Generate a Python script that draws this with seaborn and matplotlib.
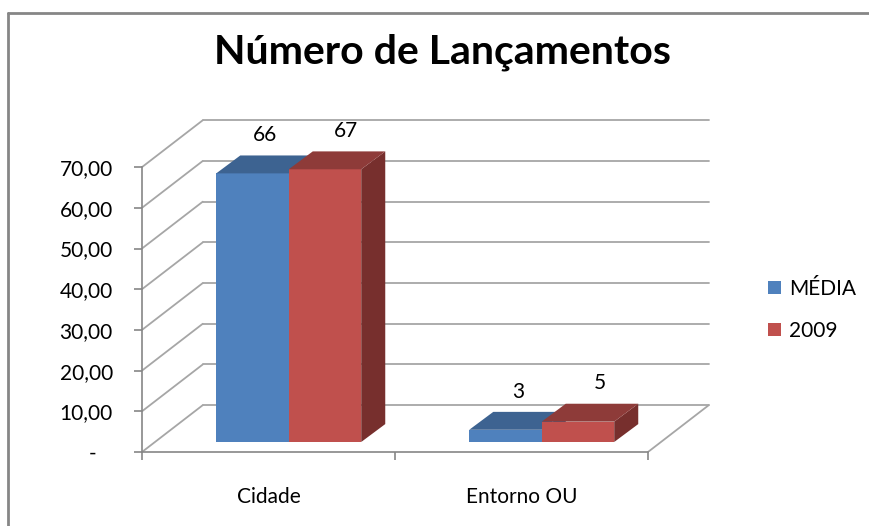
import pandas as pd
import matplotlib
matplotlib.use("Agg")
import matplotlib.pyplot as plt
from matplotlib.patches import Polygon, Patch
from matplotlib.lines import Line2D
import seaborn as sns

# chart data
categories = ["Cidade", "Entorno OU"]
series = ["MÉDIA", "2009"]
media_values = [66, 3]
values_2009 = [67, 5]
y_ticks = [0, 10, 20, 30, 40, 50, 60, 70]
y_tick_labels = ["-   ", "10,00", "20,00", "30,00", "40,00", "50,00", "60,00", "70,00"]

data = pd.DataFrame({
    "categoria": categories * 2,
    "serie": [series[0]] * 2 + [series[1]] * 2,
    "valor": media_values + values_2009,
})
series_values = [media_values, values_2009]

front_colors = ["#4F81BD", "#C0504D"]
top_colors = ["#3D6391", "#8E3B39"]
side_colors = ["#3A5F8C", "#772F2D"]

sns.set_style("white")
plt.rcParams["font.family"] = ["Lato", "DejaVu Sans"]
plt.rcParams["text.color"] = "black"
plt.rcParams["xtick.labelcolor"] = "black"
plt.rcParams["ytick.labelcolor"] = "black"

W, H = 870, 526
fig = plt.figure(figsize=(W / 100, H / 100), dpi=100)
# axes placed so that the front plane matches the reference
ax = fig.add_axes([142 / W, (H - 452) / H, (713 - 142) / W, 85 * 4.07 / H])

# offsets of the 3d look, in data units
wall_dx, wall_dy = 0.24, 11.5   # back wall
bar_dx, bar_dy = 0.08, 2.46     # bars sit in the middle of the depth
dep_dx, dep_dy = 0.095, 4.4     # depth of each bar
label_dx = [0.05, 0.085]        # label shift per series (perspective)

ax = sns.barplot(data=data, x="categoria", y="valor", hue="serie",
                 palette=front_colors, width=0.573, legend=False,
                 saturation=1, ax=ax, zorder=5)

# back wall and left wall grid
grid_col = "#a6a6a6"
for v in y_ticks:
    ax.plot([-0.5 + wall_dx, 1.5 + wall_dx], [v + wall_dy, v + wall_dy],
            color=grid_col, lw=1.3, zorder=1)
    ax.plot([-0.5, -0.5 + wall_dx], [v, v + wall_dy],
            color=grid_col, lw=1.3, zorder=1)
# floor right edge
ax.plot([1.5, 1.5 + wall_dx], [0, wall_dy], color=grid_col, lw=1.3, zorder=1)

for i, cont in enumerate(ax.containers):
    for j, p in enumerate(cont.patches):
        x0 = p.get_x() + bar_dx
        x1 = x0 + p.get_width()
        h = p.get_height()
        p.set_x(x0)
        p.set_y(bar_dy)
        p.set_linewidth(0)
        z = 5 + i * 2
        p.set_zorder(z)
        y0, y1 = bar_dy, bar_dy + h
        top = Polygon([(x0, y1), (x1, y1), (x1 + dep_dx, y1 + dep_dy),
                       (x0 + dep_dx, y1 + dep_dy)], closed=True,
                      facecolor=top_colors[i], lw=0, zorder=z)
        side = Polygon([(x1, y0), (x1, y1), (x1 + dep_dx, y1 + dep_dy),
                        (x1 + dep_dx, y0 + dep_dy)], closed=True,
                       facecolor=side_colors[i], lw=0, zorder=z - 0.5)
        ax.add_patch(side)
        ax.add_patch(top)
        ax.text((x0 + x1) / 2 + label_dx[i], y1 + dep_dy + 5,
                str(series_values[i][j]),
                ha="center", va="center", fontsize=15, zorder=20)

ax.set_xlim(-0.5, 1.5 + wall_dx + 0.017)
ax.set_ylim(0, 85)
ax.set_xlabel("")
ax.set_ylabel("")
ax.set_yticks(y_ticks)
ax.set_yticklabels(y_tick_labels)
ax.set_xticks([0, 1])
ax.set_xticklabels(categories)
ax.set_xticks([-0.5, 0.5, 1.5], minor=True)
ax.tick_params(axis="x", which="major", length=0, pad=25, labelsize=15)
ax.tick_params(axis="x", which="minor", length=6, width=1.2, color="#868686",
               direction="out", bottom=True)
ax.tick_params(axis="y", length=6, width=1.2, color="#868686", pad=15,
               labelsize=15, direction="out", left=True)
for s in ["top", "right"]:
    ax.spines[s].set_visible(False)
ax.spines["left"].set_bounds(0, 70)
ax.spines["bottom"].set_bounds(-0.5, 1.5)
for s in ["left", "bottom"]:
    ax.spines[s].set_color("#868686")
    ax.spines[s].set_linewidth(1.2)
ax.patch.set_alpha(0)

fig.text(443 / W, 1 - 52 / H, "Número de Lançamentos", ha="center",
         va="center", fontsize=29.5, fontweight="bold", color="black")

handles = [Patch(facecolor=c, edgecolor="none") for c in front_colors]
fig.legend(handles, series, loc="center left",
           bbox_to_anchor=(768 / W, 1 - 310 / H), frameon=False,
           fontsize=15, handlelength=0.62, handleheight=0.62,
           handletextpad=0.4, labelspacing=1.05, borderpad=0,
           borderaxespad=0)

# outer frame of the chart area (left and top edges only are in view)
frame_x = 8.5 / W
frame_y = 1 - 12.5 / H
fig.lines.append(Line2D([frame_x, frame_x], [-0.01, frame_y], transform=fig.transFigure,
                        color="#868686", lw=2))
fig.lines.append(Line2D([frame_x, 1.01], [frame_y, frame_y], transform=fig.transFigure,
                        color="#868686", lw=2))

fig.savefig("out.png", dpi=100)
